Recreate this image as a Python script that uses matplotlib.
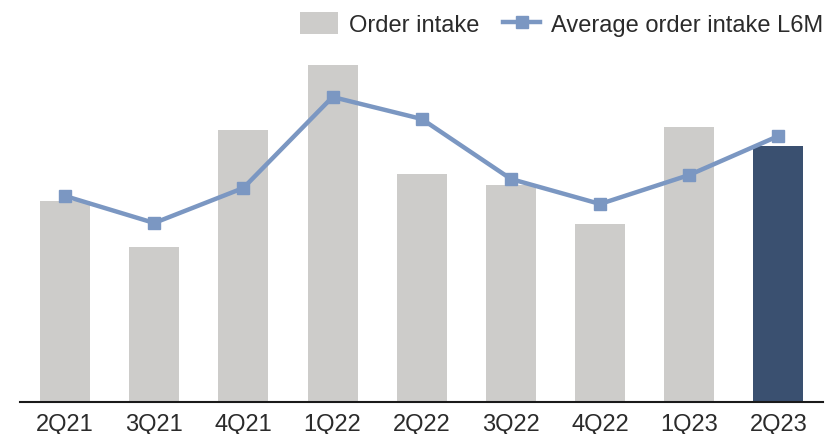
import matplotlib.pyplot as plt
from matplotlib.patches import Patch
from matplotlib.lines import Line2D

plt.rcParams['font.family'] = ['Liberation Sans', 'DejaVu Sans']

quarters = ['2Q21', '3Q21', '4Q21', '1Q22', '2Q22', '3Q22', '4Q22', '1Q23', '2Q23']
order_intake = [201, 155, 272, 337, 228, 217, 178, 275, 256]
avg_l6m = [206, 179, 214, 305, 283, 223, 198, 227, 266]

gray = '#cdccca'
dark = '#3a5070'
blue = '#7b97c2'
txt = '#2b2b2b'

fig = plt.figure(figsize=(8.3, 4.35), dpi=100)
ax = fig.add_axes([0.0246, 0.0736, 0.967, 0.8115])

x = range(len(quarters))
colors = [gray] * (len(quarters) - 1) + [dark]
ax.bar(x, order_intake, width=0.56, color=colors, zorder=1)
ax.plot(x, avg_l6m, color=blue, linewidth=3.2, marker='s', markersize=8.5, zorder=2)

ax.set_xlim(-0.5, len(quarters) - 0.5)
ax.set_ylim(0, 353)
ax.set_xticks(list(x))
ax.set_xticklabels(quarters, fontsize=17, color=txt)
ax.tick_params(axis='x', length=0, pad=8)
ax.set_yticks([])
for s in ['top', 'right', 'left']:
    ax.spines[s].set_visible(False)
ax.spines['bottom'].set_linewidth(1.5)
ax.spines['bottom'].set_color('#1a1a1a')

handles = [Patch(facecolor=gray, edgecolor='none'),
           Line2D([0], [0], color=blue, linewidth=3.2, marker='s', markersize=8.5)]
fig.legend(handles, ['Order intake', 'Average order intake L6M'],
           loc='upper right', bbox_to_anchor=(0.992, 0.97), ncol=2, frameon=False,
           fontsize=17, handlelength=1.6, handleheight=1.05, columnspacing=1.0,
           handletextpad=0.45, borderpad=0, borderaxespad=0, labelcolor=txt)

fig.savefig('out.png', dpi=100)
